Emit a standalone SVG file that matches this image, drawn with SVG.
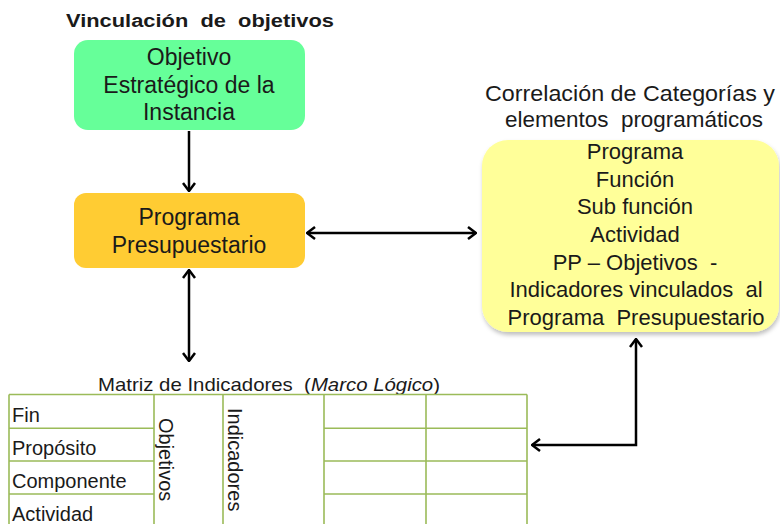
<svg xmlns="http://www.w3.org/2000/svg" width="780" height="524" viewBox="0 0 780 524">
<defs>
  <style>
    text { font-family: "Liberation Sans", Arial, sans-serif; fill: #1a1a1a; white-space: pre; }
    .title { font-size: 18px; font-weight: bold; }
    .box { font-size: 23px; text-anchor: middle; }
    .yb { font-size: 22px; text-anchor: middle; }
    .lbl { font-size: 22px; text-anchor: middle; }
    .cell { font-size: 20px; }
    .grid { stroke: #9BBB59; stroke-width: 1.6; fill: none; }
    .conn { stroke: #000; stroke-width: 2.5; fill: none; }
  </style>
  <marker id="arr" viewBox="0 0 12 14" refX="11" refY="7" markerWidth="12" markerHeight="14" markerUnits="userSpaceOnUse" orient="auto-start-reverse">
    <path d="M3,1 L11,7 L3,13" fill="none" stroke="#000" stroke-width="2.5" stroke-linejoin="miter"/>
  </marker>
  <filter id="sh" x="-5%" y="-5%" width="115%" height="120%">
    <feDropShadow dx="1" dy="3" stdDeviation="2" flood-color="#000" flood-opacity="0.25"/>
  </filter>
</defs>
<rect width="780" height="524" fill="#fff"/>

<text class="title" x="66" y="27" textLength="268" lengthAdjust="spacingAndGlyphs">Vinculación  de  objetivos</text>

<g id="objetivo-estrategico">
  <rect x="74" y="40" width="231" height="90" rx="14" fill="#66FF99"/>
  <text class="box" x="189" y="65">Objetivo</text>
  <text class="box" x="189" y="93">Estratégico de la</text>
  <text class="box" x="189" y="120">Instancia</text>
</g>

<g id="programa-presupuestario">
  <rect x="74" y="193" width="231" height="75" rx="12" fill="#FFCC33"/>
  <text class="box" x="189" y="225">Programa</text>
  <text class="box" x="189" y="253">Presupuestario</text>
</g>

<g id="correlacion">
  <text class="lbl" x="630" y="101" textLength="290" lengthAdjust="spacingAndGlyphs">Correlación de Categorías y</text>
  <text class="lbl" x="634" y="127" textLength="258" lengthAdjust="spacingAndGlyphs">elementos  programáticos</text>
  <rect x="482" y="140" width="297" height="192" rx="26" fill="#FFFF99" filter="url(#sh)"/>
  <text class="yb" x="635" y="159">Programa</text>
  <text class="yb" x="635" y="187">Función</text>
  <text class="yb" x="635" y="214">Sub función</text>
  <text class="yb" x="635" y="242">Actividad</text>
  <text class="yb" x="635" y="270">PP – Objetivos  -</text>
  <text class="yb" x="636" y="297">Indicadores vinculados  al</text>
  <text class="yb" x="636" y="325">Programa  Presupuestario</text>
</g>

<g id="matriz">
  <text x="269" y="391" font-size="18.5" text-anchor="middle" textLength="342" lengthAdjust="spacingAndGlyphs">Matriz de Indicadores  (<tspan font-style="italic">Marco Lógico</tspan>)</text>
  <path class="grid" d="M9,394.5 H527 M9,394.5 V524 M154,394.5 V524 M223,394.5 V524 M324,394.5 V524 M426,394.5 V524 M527,394.5 V524 M9,428.3 H154 M9,461 H154 M9,494 H154 M324,428.3 H527 M324,461 H527 M324,494 H527"/>
  <text class="cell" x="12" y="422">Fin</text>
  <text class="cell" x="12" y="455">Propósito</text>
  <text class="cell" x="12" y="488">Componente</text>
  <text class="cell" x="12" y="521">Actividad</text>
  <text class="cell" transform="translate(159,418) rotate(90)">Objetivos</text>
  <text class="cell" transform="translate(228,408) rotate(90)">Indicadores</text>
</g>

<g id="connectors">
  <line class="conn" x1="189" y1="131" x2="189" y2="191" marker-end="url(#arr)"/>
  <line class="conn" x1="307" y1="233" x2="476" y2="233" marker-start="url(#arr)" marker-end="url(#arr)"/>
  <line class="conn" x1="189" y1="270" x2="189" y2="361" marker-start="url(#arr)" marker-end="url(#arr)"/>
  <polyline class="conn" points="532,445 636,445 636,339" marker-start="url(#arr)" marker-end="url(#arr)"/>
</g>
</svg>
